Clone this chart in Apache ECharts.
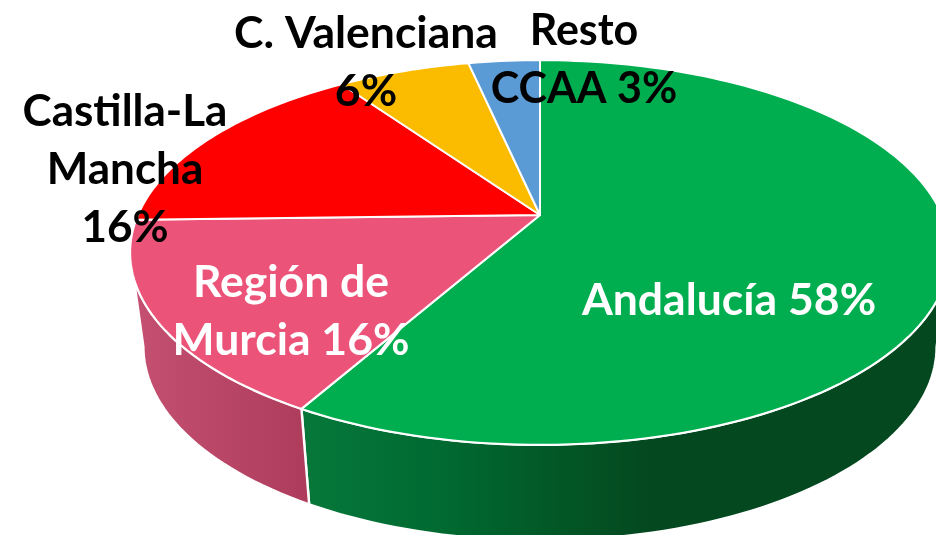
<!DOCTYPE html>
<html>
<head>
<meta charset="utf-8">
<style>html,body{margin:0;padding:0;background:#fff}#c{width:936px;height:535px}</style>
<script src="https://cdn.jsdelivr.net/npm/echarts@6/dist/echarts.min.js"></script>
</head>
<body>
<div id="c"></div>
<script>
const categories = ['Andalucía', 'Región de Murcia', 'Castilla-La Mancha', 'C. Valenciana', 'Resto CCAA'];
const shares = [58.2, 16.4, 15.7, 6.3, 3.4];
const labelLines = [
  ['Andalucía 58%'],
  ['Región de', 'Murcia 16%'],
  ['Castilla-La', 'Mancha', '16%'],
  ['C. Valenciana', '6%'],
  ['Resto', 'CCAA 3%']
];

// styles and layout, separate from the data
const topColors = ['#00AE50', '#EC5378', '#FF0000', '#FBBC00', '#5B9BD5'];
const textColors = ['#fff', '#fff', '#000', '#000', '#000'];
const labelAnchors = [[729, 301], [291, 312], [125, 170], [366, 63], [584, 60]];
const labelSizes = [44.5, 44.5, 44, 44.5, 43];
const wallFills = [
  { type: 'linear', x: 301, y: 0, x2: 936, y2: 0, global: true, colorStops: [
    { offset: 0, color: '#07783A' }, { offset: 0.22, color: '#006A31' },
    { offset: 0.55, color: '#04481F' }, { offset: 1, color: '#04481F' } ] },
  { type: 'linear', x: 140, y: 0, x2: 305, y2: 0, global: true, colorStops: [
    { offset: 0, color: '#C44F70' }, { offset: 1, color: '#AE3D5C' } ] },
  '#000', '#000', '#000'
];
const FONT = 'Lato, Carlito, "Open Sans", sans-serif';
const LINE_H = 58;
const TILT = 0.195;
const TOP = { cx: 540, cy: 215, a: 402, b: 185 };
const BOTTOM = { cx: 540, cy: 309, a: 389, b: 186.4 };
const WALL_FROM = 101.2, WALL_TO = 258.8;

const total = shares.reduce((s, v) => s + v, 0);
let run = 0;
const spans = shares.map(v => { const s = run; run += v; return [s / total * 360, run / total * 360]; });

function project(deg, p) {
  const t = deg * Math.PI / 180, u = Math.sin(t), v = -Math.cos(t), w = 1 - TILT * v;
  return [p.cx + p.a * u / w, p.cy + p.b * v / w];
}
function arc(a0, a1, p) {
  const n = Math.max(2, Math.ceil(Math.abs(a1 - a0) / 1.5)), pts = [];
  for (let i = 0; i <= n; i++) pts.push(project(a0 + (a1 - a0) * i / n, p));
  return pts;
}
const seriesData = spans.map((s, i) => ({ name: categories[i], value: [s[0], s[1], shares[i]] }));

const option = {
  backgroundColor: '#fff',
  animation: false,
  series: [
    { type: 'custom', coordinateSystem: 'none', z: 1, silent: true, data: seriesData,
      renderItem(params, api) {
        const a0 = Math.max(api.value(0), WALL_FROM), a1 = Math.min(api.value(1), WALL_TO);
        if (a1 <= a0) return { type: 'group', children: [] };
        const pts = arc(a0, a1, TOP).concat(arc(a1, a0, BOTTOM));
        return { type: 'polygon', shape: { points: pts },
          style: { fill: wallFills[params.dataIndex], stroke: '#fff', lineWidth: 2.4, lineJoin: 'round' } };
      } },
    { type: 'custom', coordinateSystem: 'none', z: 2, silent: true, data: seriesData,
      renderItem(params, api) {
        const pts = [[TOP.cx, TOP.cy]].concat(arc(api.value(0), api.value(1), TOP));
        return { type: 'polygon', shape: { points: pts },
          style: { fill: topColors[params.dataIndex], stroke: '#fff', lineWidth: 2, lineJoin: 'round' } };
      } },
    { type: 'custom', coordinateSystem: 'none', z: 3, silent: true, data: seriesData,
      renderItem(params) {
        const i = params.dataIndex;
        return { type: 'text', x: labelAnchors[i][0], y: labelAnchors[i][1],
          style: { text: labelLines[i].join('\n'), fill: textColors[i], font: 'bold ' + labelSizes[i] + 'px ' + FONT,
            lineHeight: LINE_H, align: 'center', verticalAlign: 'middle' } };
      } }
  ]
};
echarts.init(document.getElementById('c'), null, { renderer: 'canvas' }).setOption(option);
</script>
</body>
</html>
